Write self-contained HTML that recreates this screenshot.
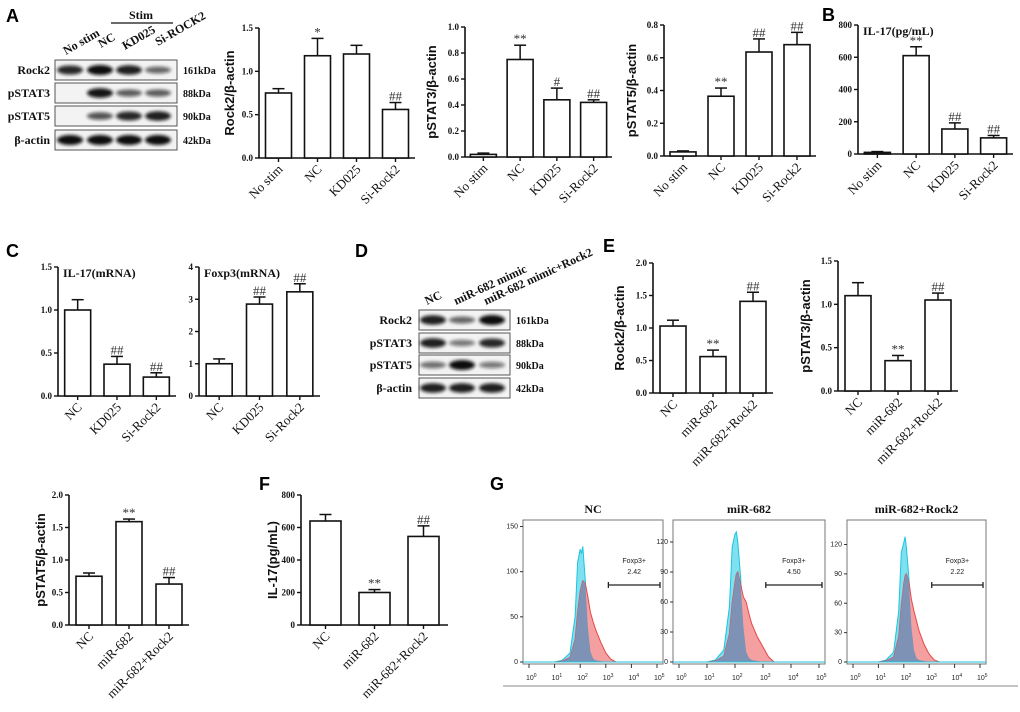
<!DOCTYPE html>
<html><head><meta charset="utf-8"><style>
body{margin:0;background:#fff}
svg{display:block}
.tk{font:bold 9px "Liberation Serif",serif;fill:#111}
.cat{font:13px "Liberation Serif",serif;fill:#111}
.yl{font:bold 13px "Liberation Sans",sans-serif;fill:#111}
.mk{font:13px "Liberation Serif",serif;fill:#333}
.pl{font:bold 18px "Liberation Sans",sans-serif;fill:#000}
.bl{font:bold 12px "Liberation Serif",serif;fill:#111}
.kd{font:bold 10px "Liberation Serif",serif;fill:#111}
.ht{font:bold 12px "Liberation Serif",serif;fill:#111}
.fs{font:7px "Liberation Sans",sans-serif;fill:#222}
</style></head><body>
<svg id="fig" width="1020" height="712" viewBox="0 0 1020 712" xmlns="http://www.w3.org/2000/svg">
<defs><filter id="blur" x="-20%" y="-50%" width="140%" height="200%"><feGaussianBlur stdDeviation="1.6"/></filter></defs>
<text class="pl" x="6" y="22">A</text>
<text class="pl" x="822" y="21">B</text>
<text class="pl" x="6" y="257">C</text>
<text class="pl" x="355" y="257">D</text>
<text class="pl" x="603" y="252">E</text>
<text class="pl" x="259" y="490">F</text>
<text class="pl" x="490" y="490">G</text>
</svg>
<script>
const NS="http://www.w3.org/2000/svg";
const fig=document.getElementById('fig');
function mk(tag,attrs,parent,txt){const e=document.createElementNS(NS,tag);for(const k in attrs)e.setAttribute(k,attrs[k]);if(txt!==undefined)e.textContent=txt;(parent||fig).appendChild(e);return e;}

// ---------- chart data ----------
const catsA=["No stim","NC","KD025","Si-Rock2"];
const catsC=["NC","KD025","Si-Rock2"];
const catsE=["NC","miR-682","miR-682+Rock2"];
const rockA_vals=[0.75,1.18,1.2,0.56], rockA_err=[0.05,0.2,0.1,0.08], rockA_mk=["","*","","##"];
const p3A_vals=[0.02,0.75,0.44,0.42], p3A_err=[0.01,0.11,0.09,0.02], p3A_mk=["","**","#","##"];
const p5A_vals=[0.025,0.365,0.635,0.68], p5A_err=[0.006,0.05,0.08,0.075], p5A_mk=["","**","##","##"];
const il17B_vals=[10,610,155,100], il17B_err=[5,55,38,15], il17B_mk=["","**","##","##"];
const il17C_vals=[1.0,0.37,0.22], il17C_err=[0.12,0.09,0.05], il17C_mk=["","##","##"];
const foxC_vals=[1.0,2.85,3.23], foxC_err=[0.15,0.22,0.25], foxC_mk=["","##","##"];
const rockE_vals=[1.03,0.56,1.41], rockE_err=[0.09,0.1,0.14], rockE_mk=["","**","##"];
const p3E_vals=[1.1,0.35,1.05], p3E_err=[0.15,0.06,0.08], p3E_mk=["","**","##"];
const p5E_vals=[0.75,1.59,0.63], p5E_err=[0.05,0.04,0.1], p5E_mk=["","**","##"];
const il17F_vals=[640,200,545], il17F_err=[40,18,65], il17F_mk=["","**","##"];
const ticks15=["0.0","0.5","1.0","1.5"], ticks10=["0.0","0.2","0.4","0.6","0.8","1.0"], ticks08=["0.0","0.2","0.4","0.6","0.8"];
const ticks800=["0","200","400","600","800"], ticks4=["0","1","2","3","4"], ticks20=["0.0","0.5","1.0","1.5","2.0"];

function barChart(c){
  const g=mk('g',{},fig);
  
  
  const max=parseFloat(c.ticks[c.ticks.length-1]);
  const Y=v=>c.y0-(v/max)*(c.y0-c.yT);
  const n=c.cats.length, step=(c.x1-c.x0)/n, X=i=>c.x0+step*(i+0.5);
  const ya=mk('line',{x1:c.x0,y1:c.yT,x2:c.x0,y2:c.y0,stroke:'#111','stroke-width':1.6},g);
  
  const xa=mk('line',{x1:c.x0,y1:c.y0,x2:c.x1,y2:c.y0,stroke:'#111','stroke-width':1.6},g);
  
  c.ticks.forEach(t=>{const y=Y(parseFloat(t));
    mk('line',{x1:c.x0-4,y1:y,x2:c.x0,y2:y,stroke:'#111','stroke-width':1.4},g);
    const tl=mk('text',{class:'tk',x:c.x0-6,y:y+3,'text-anchor':'end'},g,t);
    });
  c.vals.forEach((v,i)=>{const cx=X(i),w=c.bw||26;
    const top=Y(v+c.err[i]);
    mk('line',{x1:cx,y1:Y(v),x2:cx,y2:top,stroke:'#111','stroke-width':1.5},g);
    mk('line',{x1:cx-6,y1:top,x2:cx+6,y2:top,stroke:'#111','stroke-width':1.5},g);
    const b=mk('rect',{x:cx-w/2,y:Y(v),width:w,height:c.y0-Y(v),fill:'#fff',stroke:'#111','stroke-width':1.6},g);
    
    
    mk('line',{x1:cx,y1:c.y0,x2:cx,y2:c.y0+4,stroke:'#111','stroke-width':1.4},g);
    if(c.mk[i]){const m=mk('text',{class:'mk',x:cx,y:top-2,'text-anchor':'middle'},g,c.mk[i]);
      }
    const cl=mk('text',{class:'cat','text-anchor':'end',transform:`translate(${cx+5},${c.y0+12}) rotate(-45)`},g,c.cats[i]);
    
  });
  if(c.ylabel){const t=mk('text',{class:'yl','text-anchor':'middle',transform:`translate(${c.ylx},${(c.y0+c.yT)/2}) rotate(-90)`},g,c.ylabel);
    }
  if(c.title){const t=mk('text',{class:'ht',x:c.x0+5,y:c.yT+10},g,c.title);
    }
}
barChart({name:'chart-rock2-a',x0:259,x1:415,y0:158,yT:28,ticks:ticks15,cats:catsA,vals:rockA_vals,err:rockA_err,mk:rockA_mk,ylabel:'Rock2/β-actin',ylx:234});
barChart({name:'chart-pstat3-a',x0:465,x1:612,y0:157,yT:27,ticks:ticks10,cats:catsA,vals:p3A_vals,err:p3A_err,mk:p3A_mk,ylabel:'pSTAT3/β-actin',ylx:436});
barChart({name:'chart-pstat5-a',x0:664,x1:816,y0:156,yT:25,ticks:ticks08,cats:catsA,vals:p5A_vals,err:p5A_err,mk:p5A_mk,ylabel:'pSTAT5/β-actin',ylx:636});
barChart({name:'chart-il17-b',x0:858,x1:1013,y0:154,yT:25,ticks:ticks800,cats:catsA,vals:il17B_vals,err:il17B_err,mk:il17B_mk,title:'IL-17(pg/mL)'});
barChart({name:'chart-il17-mrna-c',x0:58,x1:176,y0:396,yT:267,ticks:ticks15,cats:catsC,vals:il17C_vals,err:il17C_err,mk:il17C_mk,title:'IL-17(mRNA)'});
barChart({name:'chart-foxp3-mrna-c',x0:199,x1:320,y0:396,yT:267,ticks:ticks4,cats:catsC,vals:foxC_vals,err:foxC_err,mk:foxC_mk,title:'Foxp3(mRNA)'});
barChart({name:'chart-rock2-e',x0:653,x1:773,y0:393,yT:263,ticks:ticks20,cats:catsE,vals:rockE_vals,err:rockE_err,mk:rockE_mk,ylabel:'Rock2/β-actin',ylx:624});
barChart({name:'chart-pstat3-e',x0:838,x1:958,y0:391,yT:261,ticks:ticks15,cats:catsE,vals:p3E_vals,err:p3E_err,mk:p3E_mk,ylabel:'pSTAT3/β-actin',ylx:810});
barChart({name:'chart-pstat5-bottom',x0:69,x1:189,y0:625,yT:495,ticks:ticks20,cats:catsE,vals:p5E_vals,err:p5E_err,mk:p5E_mk,ylabel:'pSTAT5/β-actin',ylx:45});
barChart({name:'chart-il17-f',x0:301,x1:448,y0:625,yT:495,ticks:ticks800,cats:catsE,vals:il17F_vals,err:il17F_err,mk:il17F_mk,ylabel:'IL-17(pg/mL)',ylx:277,bw:31});

// ---------- western blots ----------
const blotRowsA=["Rock2","pSTAT3","pSTAT5","β-actin"], kdaA=["161kDa","88kDa","90kDa","42kDa"];
const bandA=[[0.85,1,0.9,0.5],[0,0.95,0.55,0.55],[0,0.6,0.85,0.9],[1,1,1,1]];
const bandD=[[0.9,0.5,1],[0.9,0.4,0.85],[0.45,1,0.4],[0.9,0.9,0.9]];
function blot(name,bx,bw,rowsY,rh,lanes,bands,labels,kda,labX){
  const g=mk('g',{},fig);
  
  
  rowsY.forEach((ry,r)=>{
    mk('rect',{x:bx,y:ry,width:bw,height:rh,fill:'#f3f3f3',stroke:'#555','stroke-width':1},g);
    lanes.forEach((lx,l)=>{const it=bands[r][l];if(it>0){
      mk('ellipse',{cx:lx,cy:ry+rh/2,rx:13,ry:2+3*it,fill:'#111','fill-opacity':0.25+0.75*it,filter:'url(#blur)'},g);}});
    const t=mk('text',{class:'bl',x:labX,y:ry+rh/2+4,'text-anchor':'end'},g,labels[r]);
    
    const k=mk('text',{class:'kd',x:bx+bw+6,y:ry+rh/2+4},g,kda[r]);
    
  });
}
blot('western-blot-a',55,122,[60,83,106,130],20,[70,100,129,158],bandA,blotRowsA,kdaA,50);
blot('western-blot-d',419,91,[310,333,355,378],20,[433,462,492],bandD,blotRowsA,kdaA,412);
[["No stim",66,55],["NC",101,48],["KD025",125,50],["Si-ROCK2",158,46]].forEach(([t,x,y])=>{
  const e=mk('text',{class:'bl',transform:`translate(${x},${y}) rotate(-30)`},fig,t);
  });
mk('line',{x1:111,y1:23,x2:173,y2:23,stroke:'#111','stroke-width':1.3});
const st=mk('text',{class:'bl',x:141,y:19,'text-anchor':'middle'},fig,'Stim');

[["NC",427,305],["miR-682 mimic",456,305],["miR-682 mimic+Rock2",486,305]].forEach(([t,x,y])=>{
  const e=mk('text',{class:'bl',transform:`translate(${x},${y}) rotate(-25)`},fig,t);
  });

// ---------- flow histograms ----------
const histLogs=[0,1.0,1.3,1.6,1.8,1.9,2.0,2.05,2.1,2.2,2.3,2.4,2.5,2.6,2.8,3.0,3.2,3.4,5];
const cyanNC=[0,0,2,10,50,110,125,120,128,90,38,12,4,2,1,0,0,0,0];
const redNC=[0,0,1,5,25,55,78,85,90,87,72,55,45,36,22,10,3,0,0];
const cyanMiR=[0,0,2,12,55,115,128,130,120,85,35,10,4,2,1,0,0,0,0];
const redMiR=[0,0,1,6,28,60,80,88,90,78,65,60,48,38,25,15,5,0,0];
const cyanR2=[0,0,2,10,52,112,122,128,118,86,36,12,4,2,1,0,0,0,0];
const redR2=[0,0,1,5,26,58,80,88,90,82,64,52,42,32,18,8,2,0,0];
const histTitles=["NC","miR-682","miR-682+Rock2"], gatePct=["2.42","4.50","2.22"];
const histYTicks=[["0","50","100","150"],["0","30","60","90","120"],["0","30","60","90","120"]];
const histYMax=[155,140,143];
function hist(i,bx,bw,by,bh,cy,rd){
  const g=mk('g',{},fig);
  
  
  const x0=bx+6,dec=(bw-12)/5, X=l=>x0+l*dec, y0=by+bh-2, Y=v=>y0-v/histYMax[i]*(bh-4);
  mk('rect',{x:bx,y:by,width:bw,height:bh,fill:'#fff',stroke:'#777','stroke-width':1},g);
  const path=arr=>'M'+X(histLogs[0])+','+y0+' '+histLogs.map((l,k)=>'L'+X(l).toFixed(1)+','+Y(arr[k]).toFixed(1)).join(' ')+' L'+X(5)+','+y0+'Z';
  const ov=cy.map((v,k)=>Math.min(v,rd[k]));
  const a=mk('path',{d:path(cy),fill:'#7fe0f0',stroke:'#1cc4e0','stroke-width':1},g);
  
  const b=mk('path',{d:path(rd),fill:'#f4a0a0',stroke:'#e54848','stroke-width':1},g);
  
  mk('path',{d:path(ov),fill:'#7d92b4',stroke:'none'},g);
  mk('line',{x1:bx,y1:y0,x2:bx+bw,y2:y0,stroke:'#1cc4e0','stroke-width':1},g);
  histYTicks[i].forEach(t=>{const y=Y(+t);mk('line',{x1:bx-3,y1:y,x2:bx,y2:y,stroke:'#333'},g);
    mk('text',{class:'fs',x:bx-5,y:y+2,'text-anchor':'end'},g,t);});
  for(let d=0;d<=5;d++){mk('line',{x1:X(d),y1:by+bh,x2:X(d),y2:by+bh+4,stroke:'#333'},g);
    const t=mk('text',{class:'fs',x:X(d)-3,y:by+bh+16},g,'10');
    mk('tspan',{dy:-3,'font-size':5},t,String(d));}
  const gx1=X(3.1),gx2=bx+bw-3,gy=by+65;
  mk('line',{x1:gx1,y1:gy,x2:gx2,y2:gy,stroke:'#222','stroke-width':1.3},g);
  mk('line',{x1:gx1,y1:gy-3,x2:gx1,y2:gy+3,stroke:'#222','stroke-width':1.3},g);
  mk('line',{x1:gx2,y1:gy-3,x2:gx2,y2:gy+3,stroke:'#222','stroke-width':1.3},g);
  mk('text',{class:'fs',x:(gx1+gx2)/2,y:gy-22,'text-anchor':'middle'},g,'Foxp3+');
  mk('text',{class:'fs',x:(gx1+gx2)/2,y:gy-11,'text-anchor':'middle'},g,gatePct[i]);
  const tt=mk('text',{class:'ht',x:bx+bw/2,y:by-7,'text-anchor':'middle'},g,histTitles[i]);
  
}
hist(0,523,140,520,144,cyanNC,redNC);
hist(1,673,152,520,144,cyanMiR,redMiR);
hist(2,847,139,520,144,cyanR2,redR2);
mk('line',{x1:503,y1:686,x2:1018,y2:686,stroke:'#888','stroke-width':1});
</script>
</body></html>
